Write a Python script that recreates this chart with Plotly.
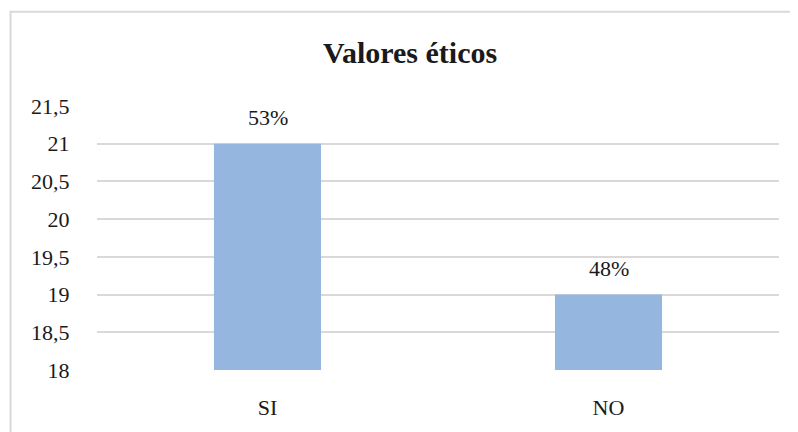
import plotly.graph_objects as go

categories = ["SI", "NO"]
values = [21, 19]
labels = ["53%", "48%"]
y_ticks = [18, 18.5, 19, 19.5, 20, 20.5, 21, 21.5]

SERIF = "Times New Roman"

fig = go.Figure()
fig.add_trace(go.Bar(
    x=categories, y=values, width=0.314,
    marker=dict(color="#95B7DF", line=dict(width=0)),
))

for c, v, t in zip(categories, values, labels):
    fig.add_annotation(x=c, y=v, text=t, showarrow=False, yanchor="bottom", yshift=12,
                       font=dict(family=SERIF, size=22))

# chart border (cropped at right and bottom); page body adds 8px offset
fig.add_shape(type="rect", xref="paper", yref="paper",
              x0=-0.1268, x1=1.1, y0=-0.5, y1=1.357,
              line=dict(color="#D9D9D9", width=2), fillcolor="rgba(0,0,0,0)", layer="below")

fig.update_layout(
    width=790, height=424,
    margin=dict(l=89, r=19, t=98, b=56),
    plot_bgcolor="white",
    separators=",.",
    showlegend=False,
    font=dict(family=SERIF, size=22, color="#1a1a1a"),
    title=dict(text="<b>Valores éticos</b>", x=0.509, xanchor="center", y=0.895, yanchor="middle",
               font=dict(family=SERIF, size=30)),
)
fig.update_yaxes(range=[18, 21.5], tickvals=y_ticks, showgrid=True, gridcolor="#D9D9D9", gridwidth=1.5,
                 zeroline=False, showline=False, ticks="outside", ticklen=22, tickcolor="white",
                 tickfont=dict(family=SERIF, size=22))
fig.update_xaxes(showgrid=False, showline=False, ticks="outside", ticklen=18, tickcolor="white",
                 tickfont=dict(family=SERIF, size=22))

fig.write_html("out.html")
